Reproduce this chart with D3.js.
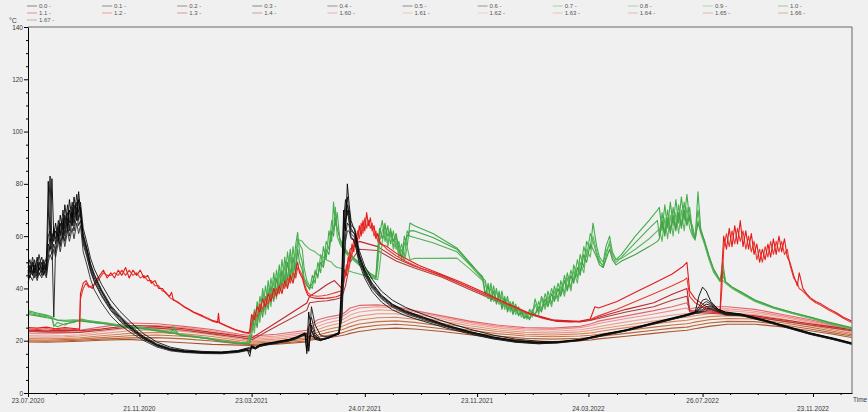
<!DOCTYPE html>
<html>
<head>
<meta charset="utf-8">
<script src="https://cdn.jsdelivr.net/npm/d3@7"></script>
<style>
  html, body { margin: 0; padding: 0; background: #f0f0f0; }
  svg { display: block; font-family: "Liberation Sans", Arial, sans-serif; }
</style>
</head>
<body>
<svg id="chart" width="868" height="412"></svg>
<script>
// ---- Data -------------------------------------------------------------
// Time is given in days after the start date; temperatures in °C.
const startDate = "2020-07-23";
const endDay = 895.4;

const xTickDates = ["2020-07-23", "2020-11-21", "2021-03-23", "2021-07-24",
                    "2021-11-23", "2022-03-24", "2022-07-26", "2022-11-23"];
const xTickLabels = ["23.07.2020", "21.11.2020", "23.03.2021", "24.07.2021",
                     "23.11.2021", "24.03.2022", "26.07.2022", "23.11.2022"];
const yTickValues = [0, 20, 40, 60, 80, 100, 120, 140];

const seriesNames = ["0.0", "0.1", "0.2", "0.3", "0.4", "0.5", "0.6", "0.7", "0.8", "0.9", "1.0",
                     "1.1", "1.2", "1.3", "1.4", "1.60", "1.61", "1.62", "1.63", "1.64", "1.65", "1.66", "1.67"];

// Sensors 0.0 – 0.6
const blackDays = [0,2,5,7,10,12,15,17,20,22,24,26,28,30,33,35,38,40,43,45,48,50,53,55,57,
  60,64,68,72,80,90,100,112,125,140,155,170,190,210,228,238,
  241,243,247,252,260,268,276,284,292,298,301,303,305,308,312,318,325,332,338,
  341,343,345,347,349,351,
  355,360,366,374,384,396,410,430,455,480,505,530,555,
  575,600,625,650,675,700,715,725,
  729,733,737,742,750,758,
  775,800,825,850,875,895];
const s00 = [47,44,50,46,52,47,50,45,49,81,58,82,60,65,58,68,62,72,64,74,66,75,68,77,70,
  60,55,49,45,39,33,29,25,21.5,18.5,16.8,16,15.6,15.5,16,16.8,
  14,18,17.5,18.5,19,19.5,20,20.5,21.5,22.5,23,16,31,24,20.5,20,21,22,23,
  45,70,62,80,72,66,
  62,53,47,42,37.5,34,31.5,29,26,23.5,21.5,20,19.4,
  19.6,20.5,22.5,24.2,26.5,28.7,30,31,
  37,40.5,39,35,32,31,
  30.2,28,25.5,23,21,19.2];
const s01 = [45,49,45,51,46,50,46,51,47,66,83,57,63,57,66,60,70,63,72,65,73,67,76,69,73,
  63,57.5,51.5,47.5,41.5,35.5,31.2,27,22.8,19.5,17.5,16.5,15.9,15.7,16.2,17,
  17,17.8,17.2,18.2,18.8,19.3,19.8,20.3,21.2,22.2,22.6,22.8,16,33,26,22,21.5,22.3,23.2,
  40,66,74,68,70,64,
  63,54.5,48.5,43.5,39,35.5,32.8,30,27,24.4,22.2,20.6,19.8,
  19.4,20.3,22.3,24,26.3,28.5,29.8,30.8,
  33,35.5,36,34.5,32,30.8,
  30,27.8,25.3,22.8,20.8,19];
const s02 = [50,46,52,47,48,53,47,48,52,60,62,58,29,56,63,57,67,61,69,62,71,64,73,66,71,
  58,53,47,43,37.5,32,28,24.5,21,18.2,16.5,15.8,15.4,15.3,15.8,16.5,
  16,17.5,17,18,18.6,19.1,19.6,20.1,21,22,22.4,15,25,29,23,20.5,21,22,22.8,
  38,58,70,75,66,62,
  61,52.5,46.5,41.5,37,33.8,31.2,28.8,25.8,23.4,21.4,19.9,19.3,
  19.5,20.4,22.4,24.1,26.4,28.6,29.9,30.9,
  32,34,35,34,31.8,30.6,
  30.1,27.9,25.4,22.9,20.9,19.1];
const s03 = [48,51,46,49,45,49,52,47,50,57,55,61,58,62,60,65,59,68,62,70,64,72,66,74,68,
  59,54,48,44,38.5,32.5,28.5,24.8,21.2,18.3,16.6,15.9,15.5,15.4,15.9,16.6,
  15.5,17.6,17.1,18.1,18.7,19.2,19.7,20.2,21.1,22.1,22.5,20,16,26,22,20.3,20.8,21.8,22.7,
  36,62,66,72,68,63,
  60.5,52,46,41,37,33.6,31,28.6,25.6,23.2,21.2,19.8,19.2,
  19.4,20.3,22.2,24,26.2,28.4,29.7,30.7,
  31.5,33,34,33.5,31.5,30.4,
  29.9,27.7,25.2,22.7,20.7,18.9];
const s04 = [46,48,49,44,50,45,48,50,46,54,59,55,61,59,64,61,65,60,67,63,69,65,71,67,69,
  61,55.5,49.5,45.5,39.5,33.5,29.5,25.5,21.8,18.8,17,16.2,15.7,15.6,16.2,17.2,
  17.5,17.9,17.4,18.4,19,19.5,20,20.5,21.4,22.4,22.8,22,18,24,21.5,20.6,21.2,22.1,22.9,
  34,55,64,70,65,61,
  59.5,51.5,45.5,40.5,36.5,33.2,30.8,28.4,25.5,23.1,21.1,19.7,19.1,
  19.3,20.2,22.1,23.9,26.1,28.3,29.6,30.6,
  31,32,33,33,31.5,30.2,
  29.8,27.6,25.1,22.6,20.6,18.8];
const s05 = [44,47,45,48,44,48,45,49,45,52,56,53,57,54,60,56,62,58,64,60,66,62,68,64,66,
  57,52,46.5,42.5,37,31.5,27.5,24,20.8,18,16.4,15.7,15.3,15.2,15.7,16.4,
  16.2,17.4,16.9,17.9,18.5,19,19.5,20,20.9,21.9,22.3,21.5,21,22,21,20.4,20.9,21.9,22.6,
  30,50,60,65,64,60,
  57.5,49.5,43.8,38.8,34.8,31.8,29.6,27.4,24.8,22.6,20.7,19.4,18.8,
  19.2,20.1,22,23.8,26,28.2,29.5,30.5,
  30.8,31.5,32.2,32.5,31.2,30,
  29.7,27.5,25,22.5,20.5,18.7];
const s06 = [42,45,43,46,43,46,44,47,44,50,53,51,55,52,58,54,60,56,62,58,63,59,65,61,64,
  54,49,43.5,39.5,34.5,29.5,26,23,20.2,17.6,16.1,15.5,15.1,15,15.5,16.2,
  16.8,17.3,16.8,17.8,18.4,18.9,19.4,19.9,20.8,21.8,22.1,21.8,21.5,21.6,21.2,20.3,20.8,21.8,22.5,
  28,44,58,62,62,59,
  58.5,50.5,45,40,36,32.8,30.4,28,25.3,22.9,20.9,19.5,18.9,
  19.1,20,21.9,23.7,25.9,28.1,29.4,30.4,
  30.5,31,31.5,32,31,29.8,
  29.6,27.4,24.9,22.4,20.4,18.6];

// Sensors 0.7 – 1.0
const greenDays = [0,10,20,26,28,32,40,50,58,
  70,85,100,118,135,150,155,157,165,180,195,210,225,238,
  241,243,246,249,252,255,258,261,264,267,270,273,276,279,282,285,288,291,293,295,
  298,300,303,306,309,312,315,318,321,324,327,330,332,334,336,
  339,343,348,353,358,363,368,373,378,380,
  382,385,388,391,394,397,400,403,406,409,412,415,
  420,440,466,480,494,
  497,500,503,506,509,512,515,518,521,524,527,530,533,536,539,542,545,
  548,551,555,558,562,565,569,572,576,579,583,586,590,593,597,600,604,607,611,614,618,621,625,628,632,635,639,
  645,660,675,684,
  686,689,692,695,698,701,704,707,710,713,716,719,722,725,728,731,
  735,740,745,752,755,758,765,775,790,810,830,850,870,895];
const s07 = [31.5,30.6,29.8,29.2,25.5,27,26,27.5,28,
  27,26.5,25.5,24.8,24,23.2,22.8,25.5,22,21.5,20.8,19.8,19.2,19,
  20,30,25,35,29,40,32,43,35,46,38,49,41,52,43,55,45,57,61.5,54,
  50,44,42,39.5,45,42,50,46,56,51,62,58,73,64,69,
  58,55,53,51.5,50,48.5,46.5,45,44,52,
  61,66,58,64,57,62,55,58,51,60,56,65,
  64,61,55.5,50,44,
  43,36,42,35,40,34,39,33,37,32,35,31,33,30,31,28.5,32,
  30,36,31,37,33,39,34,41,36,43,38,46,40,49,44,53,48,58,55,65,56,52,50,56,60,54,51,
  53,60,66,70,
  71,62,72,63,73,64,74,65,75,66,76,66,64,59,77,63,
  58,52,47,43,50,42.5,40.5,38.5,35.5,32.8,30.8,29,27,24.8];
const s08 = [31,30.2,29.5,28.5,26,25.3,26.5,27,28.3,
  27.3,26.7,25.8,25,24.3,23.5,23,24,22.3,21.7,21,20,19.4,19.2,
  22,24,32,27,37,31,41,34,44,37,47,40,51,43,54,45,56,47,59,57,
  55,48,43,41,40,47,44,53,49,58,55,66,62,71,60,
  57,54.5,52.5,51,49.5,48,46,44.5,43.5,48,
  58,62,65,57,63,56,60,53,57,52,62,60,
  59.5,57.5,54,49,43.5,
  37,42,36,41,35,39,33,37,32,35,31,34,30,32,29,30,28.5,
  32,29.5,35,32,38,34,40,36,42,38,45,40,47,43,51,46,56,52,61,58,53,50,49,54,57,52,50,
  52,57.5,63,66,
  60,69,61,70,62,71,63,72,64,73,65,71,62,60,70,62,
  57.5,51.5,46.5,42.8,45,42.3,40.3,38.3,35.3,32.6,30.6,28.8,26.8,24.6];
const s09 = [30.5,29.8,29.2,28.8,28.5,28,27.8,28,27.8,
  27.5,26.9,26,25.3,24.5,23.7,23.2,23.2,22.5,21.8,21,20,19.3,19,
  19.5,28,23,33,27,38,30,40,33,43,36,46,39,49,41,52,43,54,58,58.5,
  58,57,56,55,54.5,54,53,52.5,52,51,50.5,50,49,48.5,48,
  47.8,47.3,46.8,46.2,45.7,45.2,44.6,44,43.5,43.3,
  48,58,62,56,61,55,58,52,55,50,56,51,
  51.5,51.5,51.6,47.5,43,
  42,37,40,35,39,34,37,32,36,31,34,30,32,29,30.5,28.2,31,
  29,34,30,36,32,37,33,39,35,41,37,44,39,47,42,50,46,55,52,60,54,51,48,52,58,53,51,
  51.5,55,59,62,
  63,58,67,59,68,60,69,61,70,62,71,63,60,58.5,66,61,
  57,51,46.2,42.6,43,42,40,38,35,32.4,30.4,28.6,26.6,24.4];
const s10 = [30,29.5,28.8,28.5,28.3,27.8,27.5,27.5,27.5,
  27,26.4,25.6,25,24.2,23.4,23,23,22.2,21.5,20.8,19.8,19.1,18.8,
  19,22,30,25,34,29,37,32,41,35,44,38,47,41,50,43,52,45,55,50,
  47,43,41,40,42,46,45,50,48,55,53,62,60,67,63,
  59,56,53.5,52,50.5,49,47,45.5,44.5,55,
  63,59,64,60,62,58,61,55,52,57,60,62,
  62,59.5,55,49.5,44.5,
  38,41,35,39,34,38,32,36,31,34,30,33,29.5,31,28.5,29.5,28,
  31,30,33,31,36,33,38,35,40,37,43,39,45,42,48,45,53,50,57,55,52,49,48,51,55,51,49,
  50.5,53,56,58,
  59,66,60,67,61,68,62,69,63,70,64,68,61,59,65,62,
  58.5,52.5,47.5,43.2,47,42.6,40.6,38.6,35.6,32.9,30.9,29.1,27.1,25];

// Sensors 1.1 and 1.2
const redDays = [0,10,20,30,40,50,56,
  57,60,63,66,70,74,78,82,86,90,94,98,102,106,110,114,118,122,126,130,134,138,142,146,150,154,156,158,162,166,170,175,180,
  190,200,206,207,208,215,225,235,240,
  241,243,246,249,252,255,258,261,264,267,270,273,276,279,282,285,288,291,293,295,
  298,301,304,307,310,315,320,325,330,335,340,
  342,344,346,348,350,352,354,356,358,360,362,364,366,368,370,372,374,376,378,380,383,
  390,400,410,425,445,470,495,520,545,560,
  575,590,600,611,616,620,640,660,680,700,712,716,719,725,735,745,752,
  754,756,759,762,765,768,771,774,777,780,783,786,789,792,795,798,801,804,807,810,813,816,819,822,825,828,
  832,836,838,842,846,850,856,862,870,878,886,895];
const s11 = [25,24.8,25.2,24.6,25,24.7,24.5,
  38,42,43,41,40,43,45,47,44,46,44,47,45,48,44,47,45,47,44,45,42,43,40,40,38,37,38.5,35.5,35,34,33,32,31,
  29.5,27.8,27.2,30.5,27,25.8,24.3,23.3,23,
  24,30,28,33,31,36,33,38,35,40,37,41,38,43,40,45,42,47,50,46,
  44,40,37.5,36.7,36.4,36.2,36.2,36.3,36.5,36.8,37.5,
  40,47,45,52,50,57,54,61,58,64,60,66,62,69,64,67,62,64,59,61,57,
  56,53.5,51.5,48.8,46,42.5,38.5,34.3,30.5,28.7,
  27.5,27.3,27.5,28.3,33,32.5,35,38.5,42,45.5,48.5,50,39,36,33.5,31.5,30.6,
  48,60,55,63,56,64,57,66,56,62,55,61,53,57,50,55,51,57,52,59,53,60,54,59,52,50,
  45,41,46,40,38,36.5,35,34,32.2,30.8,29,27.5];
const s12 = [24.5,24.3,24.6,24.2,24.5,24.3,24.2,
  36,40,42,40.5,41,42,44,46,45,45,46,45,47,45,47,45,46,44,45,43,43,41,41,39,38.5,36.5,36,35.8,34.8,33.8,32.8,31.8,30.8,
  29.2,27.5,26.9,27.3,26.8,25.6,24.1,23.1,22.8,
  23,26,31,29,34,32,36,34,38,36,40,38,42,40,44,42,46,44,48,47,
  45,41,38.5,37.5,37.2,37,37.2,37.5,38,38.5,39,
  39,44,49,47,54,52,59,56,62,59,65,61,67,63,66,63,65,60,62,58,57.5,
  55,52.5,50.5,48,45.3,41.8,38,34,30.2,28.5,
  27.4,27.2,27.4,28,29,29.5,32,35,38,41,43,44,37,34.5,32.5,31,30.4,
  40,55,61,56,62,57,63,58,62,55,60,54,58,51,55,50,56,52,58,53,58,54,58,53,55,49,
  44,42,40,39,37.5,36,34.5,33.5,31.7,30.3,28.6,27];

// Sensors 1.3, 1.4 and 1.60 – 1.67
const lowDays = [0,20,40,56,80,110,140,170,200,230,241,244,270,303,306,315,325,333,341,345,
  350,360,380,400,420,450,480,510,540,570,600,612,616,620,650,680,700,716,719,723,
  740,760,790,820,850,875,895];
const s13 = [24,23.8,24,23.8,24.5,25.8,25.5,24.6,23.2,21.8,21.3,21.2,27,34.4,37,39,41.5,43,40,45,
  55,58,56,51.5,48.5,45,40.3,35.5,31,28,27.3,28,28.5,29,32,34.5,37.8,40,31.5,31.3,
  31,30.5,29.5,28,26.5,25.3,24.2];
const s14 = [23.5,23.3,23.4,23.2,24,25.2,24.8,24,22.6,21.2,20.6,20.5,25.5,31.7,34.5,35,35.3,35.8,36.5,41,
  50,55,54.5,50.5,47.8,44.3,39.6,35,30.5,27.8,27.2,27.8,28.2,28.5,31,33,35.5,37,31,30.8,
  30.5,30,29,27.5,26,24.8,23.8];
const s160 = [23.7,23.5,23.8,24,25.3,26.8,26.5,25.5,24.3,22.5,22,21.8,22.5,24,26,28,29,29.5,30,31,
  32.5,33.5,33.7,33,31.5,29.5,27.5,26,25,24.8,25.5,26.5,27,27.5,29.5,31.5,33,34.5,32,32.5,
  33,33,32,30,28,26,24.5];
const s161 = [22.8,22.6,22.9,23.2,24.5,25.8,25.8,25,23.8,22,21.4,21.2,21.8,23.2,25,26.8,28,28.6,29.2,30,
  31.3,32.5,33,32.5,31,29,27,25.5,24.5,24.3,25,25.8,26.2,26.6,28.5,30.2,31.5,32.5,31.5,31.6,
  32,32.2,31.3,29.5,27.5,25.7,24.2];
const s162 = [22,21.8,22,22.3,23.5,24.8,25,24.2,23,21.3,20.8,20.6,21.2,22.5,24,25.5,26.8,27.4,28,28.7,
  29.8,31,31.8,31.5,30.2,28.3,26.4,24.9,23.9,23.6,24.2,24.8,25.1,25.4,27.2,28.8,29.8,30.4,30.5,30.7,
  31.3,31.5,30.7,29,27,25.3,23.8];
const s163 = [21.4,21.3,21.5,21.8,22.7,23.8,24.2,23.5,22.3,20.7,20.2,20.1,20.6,21.8,23,24.3,25.5,26.2,26.8,27.4,
  28.3,29.4,30.3,30.3,29.3,27.5,25.7,24.2,23.2,22.9,23.4,23.9,24.2,24.5,26,27.5,28.5,29,29.2,29.5,
  30.3,30.6,30,28.3,26.4,24.8,23.3];
const s164 = [20.8,20.7,20.9,21.1,21.9,22.8,23.2,22.6,21.6,20.1,19.7,19.6,20,21.1,22,23.2,24.3,24.9,25.4,26,
  26.8,27.9,28.8,29,28.2,26.6,24.9,23.5,22.5,22.2,22.6,23,23.2,23.5,25,26.4,27.3,27.8,28,28.3,
  29.2,29.6,29.2,27.6,25.8,24.2,22.8];
const s165 = [20.3,20.2,20.4,20.6,21.2,21.9,22.2,21.7,20.8,19.5,19.2,19.1,19.5,20.5,21.2,22.2,23.1,23.7,24.2,24.7,
  25.4,26.4,27.3,27.6,27,25.6,24,22.7,21.8,21.5,21.8,22.1,22.3,22.5,23.9,25.2,26,26.5,26.7,27,
  28,28.5,28.3,26.9,25.2,23.6,22.3];
const s166 = [19.9,19.8,20,20.2,20.6,21.1,21.2,20.7,19.9,18.8,18.6,18.6,19,19.9,20.5,21.3,22,22.5,23,23.4,
  24,25,25.9,26.3,25.8,24.6,23.1,21.8,20.9,20.6,20.9,21.2,21.4,21.6,22.8,24,24.8,25.2,25.4,25.7,
  26.8,27.4,27.3,26.1,24.5,23,21.8];
const s167 = [19.5,19.4,19.6,19.8,20.2,20.5,19.8,19.2,18.6,18.3,18.2,18.2,18.7,19.5,20.2,20.6,21,21.5,22,22.3,
  22.8,23.5,24.5,24.8,24.5,23.5,22.3,21,20,19.7,20,20.3,20.5,20.7,21.7,22.8,23.5,24,24.2,24.5,
  25.5,26.3,26.3,25.3,23.8,22.5,21.2];

// ---- Series table -----------------------------------------------------
const seriesTable = [
  { name: "0.0", days: blackDays, values: s00 },
  { name: "0.1", days: blackDays, values: s01 },
  { name: "0.2", days: blackDays, values: s02 },
  { name: "0.3", days: blackDays, values: s03 },
  { name: "0.4", days: blackDays, values: s04 },
  { name: "0.5", days: blackDays, values: s05 },
  { name: "0.6", days: blackDays, values: s06 },
  { name: "0.7", days: greenDays, values: s07 },
  { name: "0.8", days: greenDays, values: s08 },
  { name: "0.9", days: greenDays, values: s09 },
  { name: "1.0", days: greenDays, values: s10 },
  { name: "1.1", days: redDays, values: s11 },
  { name: "1.2", days: redDays, values: s12 },
  { name: "1.3", days: lowDays, values: s13 },
  { name: "1.4", days: lowDays, values: s14 },
  { name: "1.60", days: lowDays, values: s160 },
  { name: "1.61", days: lowDays, values: s161 },
  { name: "1.62", days: lowDays, values: s162 },
  { name: "1.63", days: lowDays, values: s163 },
  { name: "1.64", days: lowDays, values: s164 },
  { name: "1.65", days: lowDays, values: s165 },
  { name: "1.66", days: lowDays, values: s166 },
  { name: "1.67", days: lowDays, values: s167 }
];

const lineColor = {
  "0.0": "#000000", "0.1": "#111111", "0.2": "#1c1c1c", "0.3": "#0a0a0a",
  "0.4": "#222222", "0.5": "#151515", "0.6": "#2a2a2a",
  "0.7": "#3fae49", "0.8": "#4cb050", "0.9": "#5cb85c", "1.0": "#43a047",
  "1.1": "#e31a1c", "1.2": "#ea3b2e", "1.3": "#c0262b", "1.4": "#b33a3a",
  "1.60": "#e06666", "1.61": "#f08c8c", "1.62": "#f2a090", "1.63": "#e8957a",
  "1.64": "#d9825a", "1.65": "#c87040", "1.66": "#b86236", "1.67": "#a8552e"
};

// Paint order: warm lower band first, then green, bright red, black on top.
const paintOrder = ["1.67","1.66","1.65","1.64","1.63","1.62","1.61","1.60","1.4","1.3",
                    "0.7","0.8","0.9","1.0","1.2","1.1",
                    "0.6","0.5","0.4","0.3","0.2","0.1","0.0"];

// ---- Scales -----------------------------------------------------------
const t0 = Date.parse(startDate + "T00:00:00Z");
const DAY = 864e5;
const toDate = d => new Date(t0 + d * DAY);

const plot = { left: 28, right: 852, top: 27, bottom: 393 };
const x = d3.scaleUtc().domain([toDate(0), toDate(endDay)]).range([plot.left, plot.right]);
const y = d3.scaleLinear().domain([0, 140]).range([plot.bottom, plot.top]);

const svg = d3.select("#chart");
const textColor = "#3a3a3a";

// ---- Lines ------------------------------------------------------------
const line = d3.line()
  .defined(p => p[1] != null && !isNaN(p[1]))
  .x(p => x(toDate(p[0])))
  .y(p => y(p[1]));

const byName = new Map(seriesTable.map(s => [s.name, s]));
const gLines = svg.append("g").attr("class", "lines");
paintOrder.forEach(name => {
  const s = byName.get(name);
  const pts = s.days.map((d, i) => [d, s.values[i]]);
  const isBlack = s.days === blackDays;
  gLines.append("path")
    .attr("d", line(pts))
    .attr("fill", "none")
    .attr("stroke", lineColor[name])
    .attr("stroke-width", isBlack ? 0.9 : 1.1)
    .attr("stroke-linejoin", "round");
});

// ---- Frame ------------------------------------------------------------
svg.append("path")
  .attr("d", `M${plot.left},${plot.top}H${plot.right}V${plot.bottom}`)
  .attr("fill", "none").attr("stroke", "#666").attr("stroke-width", 1);

// ---- Y axis -----------------------------------------------------------
const yMinor = d3.range(0, 141, 5).filter(v => v % 20 !== 0);
svg.append("g")
  .attr("transform", `translate(${plot.left},0)`)
  .call(d3.axisLeft(y).tickValues(yMinor).tickSize(2).tickSizeOuter(0).tickFormat(""))
  .call(g => g.select(".domain").remove())
  .call(g => g.selectAll("line").attr("stroke", "#000"));
svg.append("g")
  .attr("transform", `translate(${plot.left},0)`)
  .call(d3.axisLeft(y).tickValues(yTickValues).tickSize(4).tickSizeOuter(0).tickPadding(1).tickFormat(d3.format("d")))
  .call(g => g.select(".domain").attr("stroke", "#000"))
  .call(g => g.selectAll("line").attr("stroke", "#000"))
  .call(g => g.selectAll("text").attr("font-size", 6.5).attr("fill", textColor)
                 .attr("font-family", "Liberation Sans, Arial, sans-serif"));

svg.append("text").attr("x", 9).attr("y", 23)
  .attr("font-size", 7).attr("fill", textColor).text("°C");

// ---- X axis -----------------------------------------------------------
const majorDates = xTickDates.map(s => new Date(Date.parse(s + "T00:00:00Z")));
const minorDates = [];
majorDates.forEach((d, i) => {
  const next = majorDates[i + 1];
  const step = next ? (next - d) / 4 : (d - majorDates[i - 1]) / 4;
  for (let k = 1; k < 4; k++) {
    const m = new Date(+d + step * k);
    if (m <= x.domain()[1]) minorDates.push(m);
  }
});
svg.append("g")
  .attr("transform", `translate(0,${plot.bottom})`)
  .call(d3.axisBottom(x).tickValues(minorDates).tickSize(2).tickSizeOuter(0).tickFormat(""))
  .call(g => g.select(".domain").remove())
  .call(g => g.selectAll("line").attr("stroke", "#000"));
svg.append("g")
  .attr("transform", `translate(0,${plot.bottom})`)
  .call(d3.axisBottom(x).tickValues(majorDates).tickSize(4).tickSizeOuter(0).tickFormat(""))
  .call(g => g.select(".domain").attr("stroke", "#000"))
  .call(g => g.selectAll("line").attr("stroke", "#000"));

svg.append("g").selectAll("text")
  .data(majorDates)
  .join("text")
  .attr("x", d => x(d))
  .attr("y", (d, i) => i % 2 === 0 ? 402.5 : 410.5)
  .attr("text-anchor", "middle")
  .attr("font-size", 6.5)
  .attr("fill", textColor)
  .text((d, i) => xTickLabels[i]);

svg.append("text").attr("x", 853).attr("y", 402)
  .attr("font-size", 6.5).attr("fill", textColor).text("Time");

// ---- Legend -----------------------------------------------------------
const legend = svg.append("g").attr("class", "legend");
seriesNames.forEach((name, i) => {
  const col = i % 11, row = Math.floor(i / 11);
  const lx = 27 + col * 75.1;
  const ly = 6 + row * 7;
  legend.append("line")
    .attr("x1", lx).attr("x2", lx + 10).attr("y1", ly).attr("y2", ly)
    .attr("stroke", lineColor[name]).attr("stroke-opacity", 0.45).attr("stroke-width", 1);
  legend.append("text")
    .attr("x", lx + 12).attr("y", ly + 2)
    .attr("font-size", 6).attr("fill", "#555")
    .text(name + " -");
});
</script>
</body>
</html>
